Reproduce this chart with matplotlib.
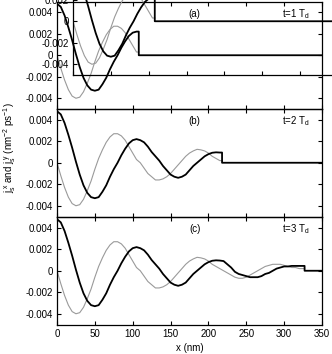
import matplotlib
matplotlib.use("Agg")
import matplotlib.pyplot as plt
import numpy as np

plt.rcParams['font.family'] = ['Liberation Sans', 'DejaVu Sans']
plt.rcParams['mathtext.fontset'] = 'custom'
plt.rcParams['mathtext.rm'] = 'Liberation Sans'
plt.rcParams['mathtext.it'] = 'Liberation Sans'

# positions along x (nm)
x_nm = [0, 5, 10, 15, 20, 25, 30, 35, 40, 45, 50, 55, 60, 65, 70, 75, 80, 85, 90, 95,
        100, 105, 110, 115, 120, 125, 130, 135, 140, 145, 150, 155, 160, 165, 170, 175,
        180, 185, 190, 195, 200, 205, 210, 215, 220, 225, 230, 235, 240, 245, 250, 255,
        260, 265, 270, 275, 280, 285, 290, 295, 300, 305, 310, 315, 320, 325]
# j_s^x (black)
jx_vals = [0.0048, 0.0045, 0.0037, 0.0026, 0.0014, 0.0001, -0.0011, -0.0021, -0.0028, -0.0032,
           -0.0033, -0.0032, -0.0027, -0.0021, -0.0013, -0.0006, 0.0000, 0.0007, 0.0013, 0.0018,
           0.0021, 0.0022, 0.0021, 0.0019, 0.0015, 0.0010, 0.0006, 0.0002, -0.0003, -0.0007,
           -0.0011, -0.0013, -0.0014, -0.0013, -0.0011, -0.0007, -0.0003, 0.0000, 0.0003, 0.0006,
           0.0008, 0.00093, 0.00097, 0.00095, 0.0009, 0.0006, 0.0003, -0.0001, -0.0003, -0.0004,
           -0.0005, -0.0006, -0.0006, -0.0006, -0.0005, -0.0003, -0.0002, 0.0000, 0.0002, 0.0003,
           0.0004, 0.0004, 0.00045, 0.00045, 0.00045, 0.00045]
# j_s^y (grey)
jy_vals = [0.0000, -0.0012, -0.0023, -0.0032, -0.0038, -0.0040, -0.0039, -0.0034, -0.0026, -0.0017,
           -0.0006, 0.0004, 0.0012, 0.0019, 0.0024, 0.0027, 0.0027, 0.0025, 0.0021, 0.0015,
           0.0009, 0.0003, 0.0000, -0.0005, -0.0010, -0.0013, -0.0016, -0.0016, -0.0015, -0.0013,
           -0.0010, -0.0006, -0.0002, 0.0002, 0.0006, 0.0009, 0.0011, 0.00125, 0.0012, 0.0011,
           0.0009, 0.0006, 0.0004, 0.0002, 0.0000, -0.0002, -0.0004, -0.0006, -0.0007, -0.0007,
           -0.0006, -0.0004, -0.0002, 0.0000, 0.0002, 0.0004, 0.0005, 0.0006, 0.0006, 0.0006,
           0.0005, 0.0004, 0.0003, 0.0003, 0.0002, 0.0002]

fronts = [108, 218, 327]
panel_tags = ['(a)', '(b)', '(c)']
time_labels = ['t=1 T$_\\mathrm{d}$', 't=2 T$_\\mathrm{d}$', 't=3 T$_\\mathrm{d}$']
yticks = [-0.004, -0.002, 0, 0.002, 0.004]
ytick_labels = ['-0.004', '-0.002', '0', '0.002', '0.004']
xticks = [0, 50, 100, 150, 200, 250, 300, 350]
xtick_labels = ['0', '50', '100', '150', '200', '250', '300', '350']

W, H = 332, 354
fig = plt.figure(figsize=(W / 100, H / 100), dpi=100)
fig.patch.set_facecolor('white')

left_px, right_px = 57, 322
panel_tops = [1.5, 109, 217]
panel_h = 107.5


def draw_panel(ax, i, show_xlabels, show_text=True):
    xs = np.array(x_nm, dtype=float)
    bx = np.array(jx_vals)
    gy = np.array(jy_vals)
    f = fronts[i]
    m = xs <= f
    xb = np.concatenate([xs[m], [f, f, 350]])
    yb = np.concatenate([bx[m], [bx[m][-1], 0, 0]])
    xg = np.concatenate([xs[m], [f]])
    yg = np.concatenate([gy[m], [gy[m][-1]]])
    ax.plot(xg, yg, color='#9a9a9a', lw=0.8, zorder=2)
    ax.plot(xb, yb, color='black', lw=1.3, zorder=3)
    ax.set_xlim(0, 350)
    ax.set_ylim(-0.005, 0.005)
    ax.set_yticks(yticks)
    ax.set_yticklabels(ytick_labels)
    ax.set_xticks(xticks)
    if show_xlabels:
        ax.set_xticklabels(xtick_labels)
    else:
        ax.set_xticklabels([])
    ax.tick_params(direction='in', top=True, right=True, length=3, width=0.8,
                   labelsize=7, pad=3)
    for s in ax.spines.values():
        s.set_linewidth(0.9)
    ax.patch.set_alpha(0)
    if show_text:
        ax.text(0.52, 0.885, panel_tags[i], transform=ax.transAxes, fontsize=7,
                ha='center', va='center')
        ax.text(0.955, 0.885, time_labels[i], transform=ax.transAxes, fontsize=7,
                ha='right', va='center')


axes = []
for i, top in enumerate(panel_tops):
    ax = fig.add_axes([left_px / W, 1 - (top + panel_h) / H,
                       (right_px - left_px) / W, panel_h / H])
    draw_panel(ax, i, i == 2)
    axes.append(ax)

# displaced duplicate of panel (a) overlapping it
dx, dy = 16, -34
axb = fig.add_axes([(left_px + dx) / W, 1 - (panel_tops[0] + dy + panel_h) / H,
                    (right_px - left_px) / W, panel_h / H])
draw_panel(axb, 0, False, show_text=False)

axes[2].set_xlabel('x (nm)', fontsize=7, labelpad=3)
fig.text(10 / W, 1 - 148 / H,
         '$j_s^{\\,x}$ and $j_s^{\\,y}$ (nm$^{-2}$ ps$^{-1}$)',
         rotation=90, ha='center', va='center', fontsize=7)

fig.savefig('out.png', dpi=100)
